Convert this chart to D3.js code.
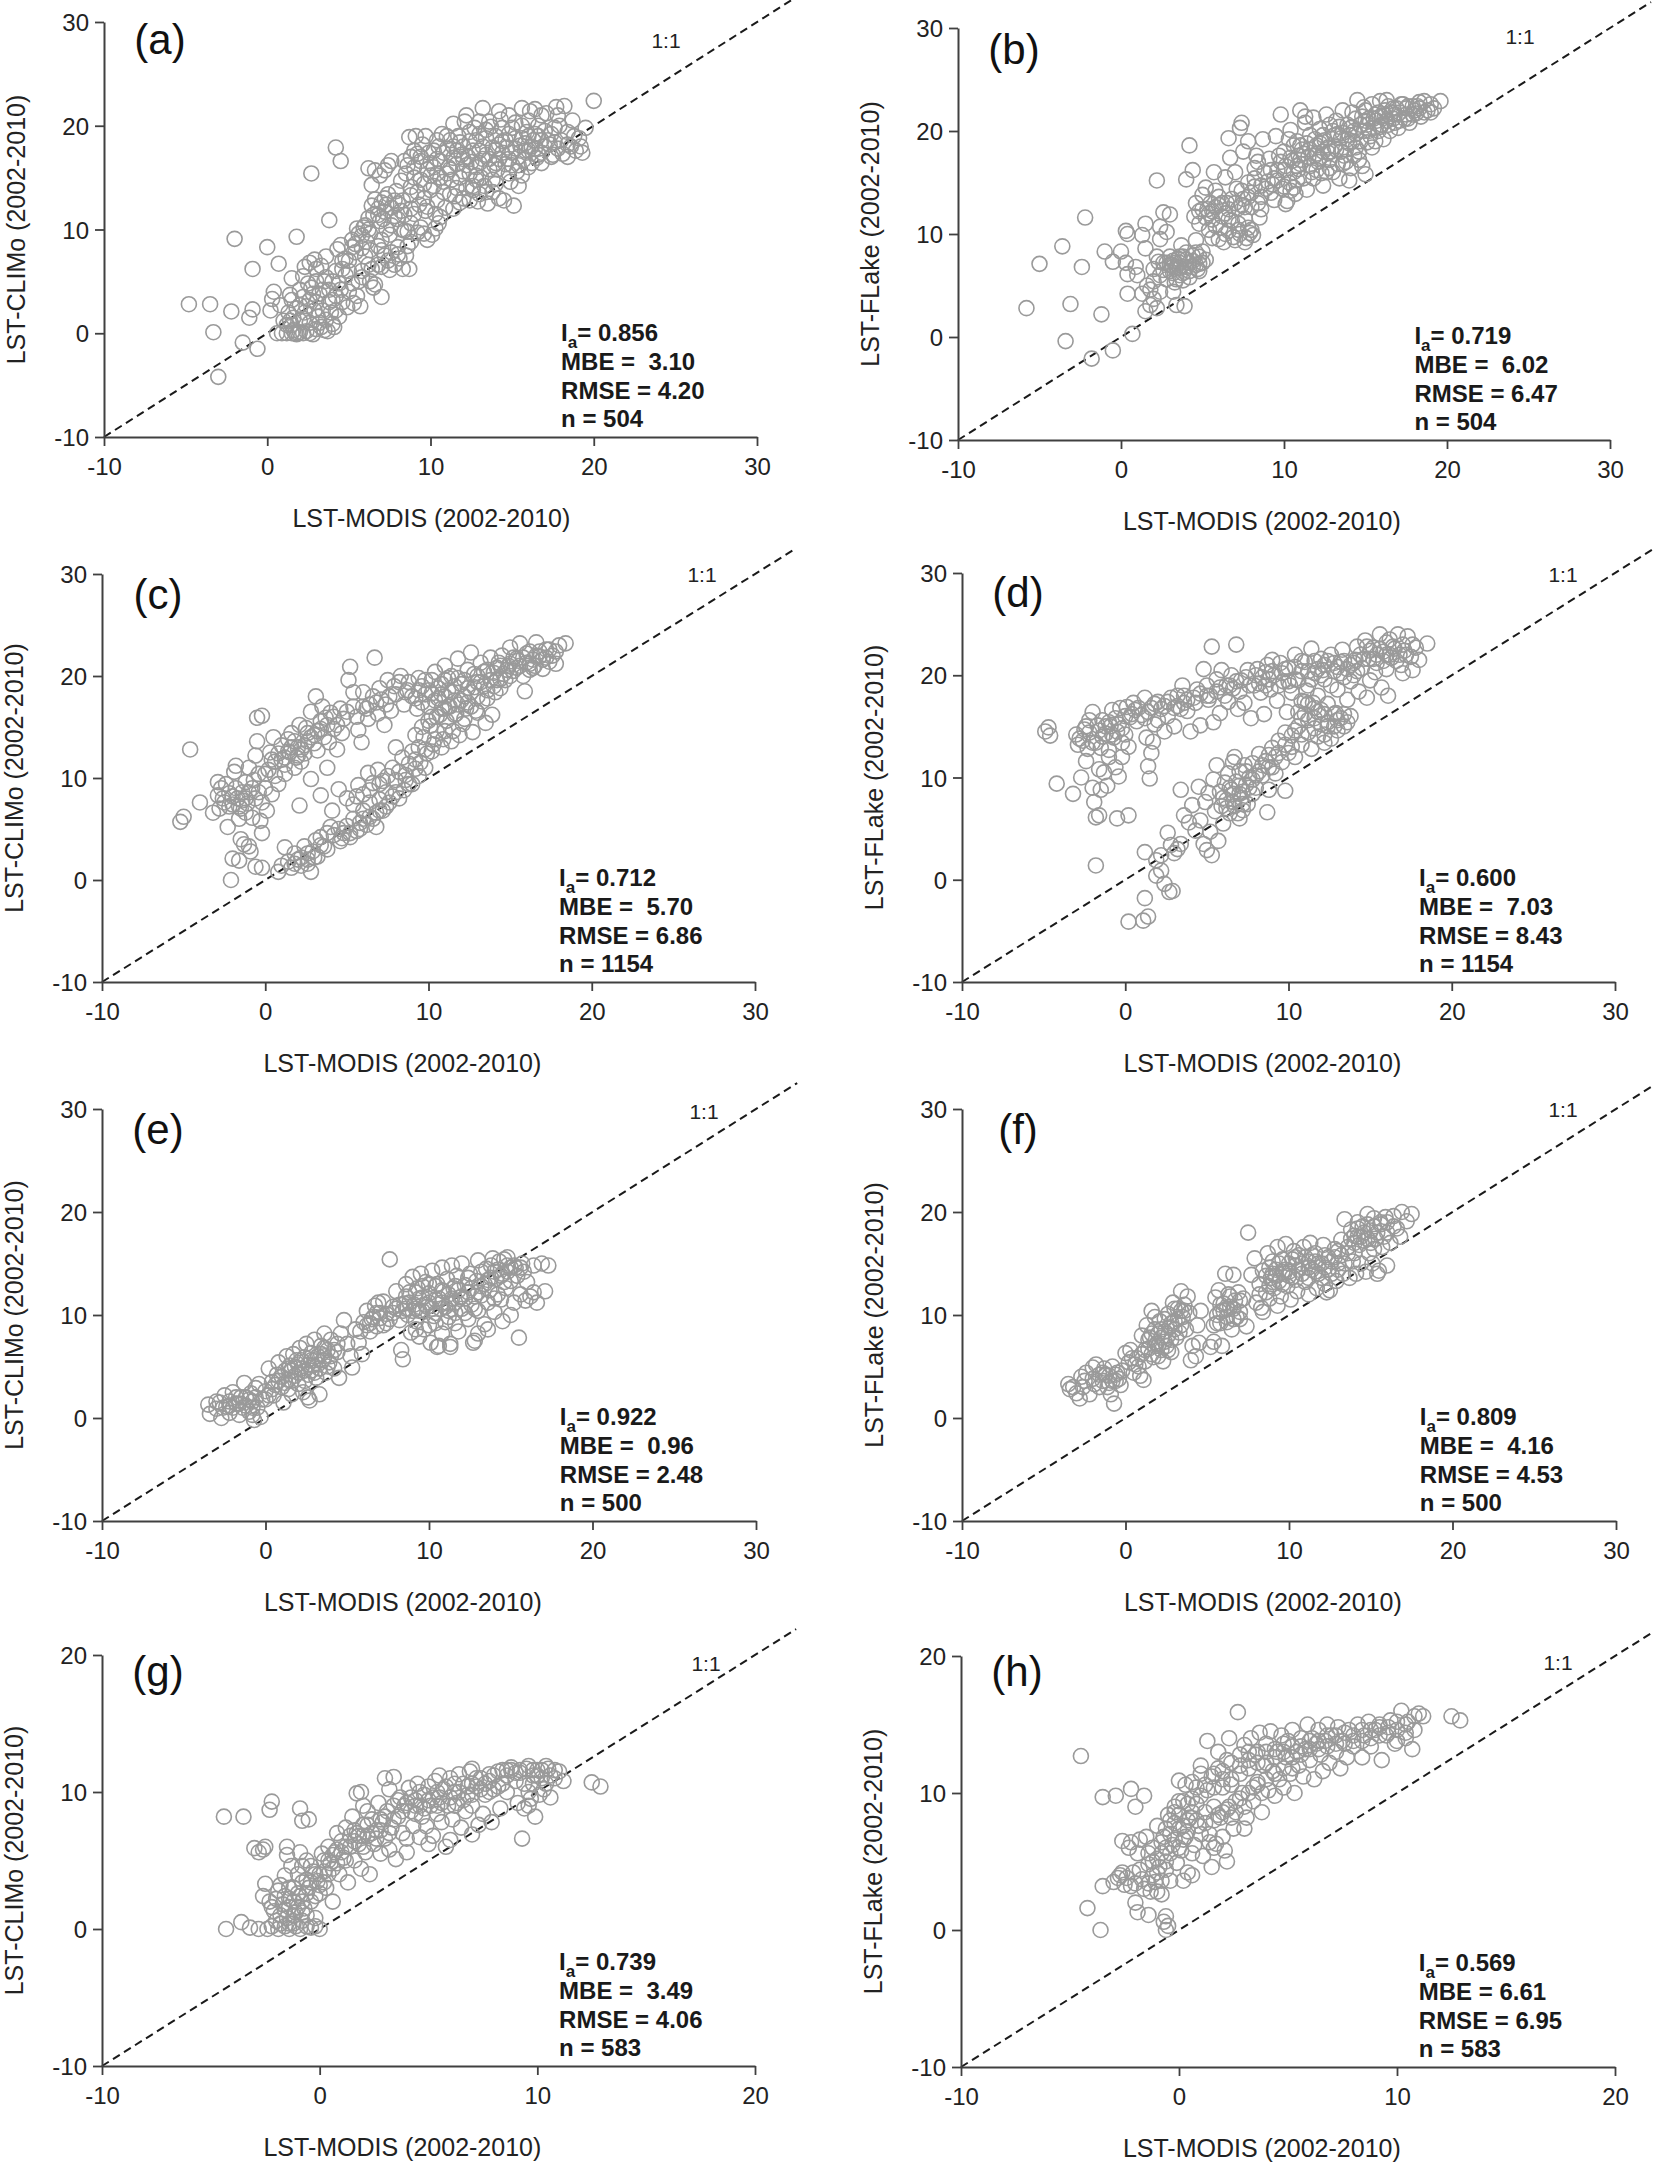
<!DOCTYPE html>
<html lang="en">
<head>
<meta charset="UTF-8">
<title>LST scatter plots</title>
<script src="https://d3js.org/d3.v7.min.js"></script>
<style>
  body { margin: 0; background: #fff; }
  text { font-family: "Liberation Sans", Arial, sans-serif; }
</style>
</head>
<body>
<script>
// ---- data (x = LST-MODIS, y = model) ----
const ptsA = [[-4.8,2.8],[-3.5,2.8],[-3.3,0.1],[-2.2,2.1],[-2.0,9.1],[-1.5,-0.9],[-1.1,1.5],[-0.9,2.3],[-0.6,-1.5],[-0.9,6.2],[-3.0,-4.2],[0.0,8.3],[0.3,3.3],[0.4,4.0],[0.7,6.7],[0.2,2.2],
[1.8,9.3],[2.7,15.4],[3.8,10.9],[4.2,17.9],[4.5,16.6],[1.5,5.3],[1.4,3.7],[1.2,0.8],
[0.6,0],[0.9,0],[1.2,0],[1.5,0],[1.7,0],[1.9,0],[2.0,0.1],[2.2,0],[2.8,-0.1],[1.6,0.3],[1.8,-0.1],
[1.0,1.2],[1.3,2.0],[1.6,1.5],[2.0,2.7],[2.3,2.0],[2.6,1.0],[2.9,2.2],[3.1,1.6],[3.3,0.6],[3.6,1.3],[3.9,2.0],[4.0,0.9],[4.2,2.2],[3.5,0.3],[4.1,0.6],[3.7,0.2],[2.4,0.2],[3.0,3.0],[2.2,3.5],[1.5,3.2],[0.8,2.7],
[2.2,5.5],[2.3,6.4],[2.6,6.8],[2.9,7.1],[2.7,4.4],[3.2,3.8],[3.5,5.0],[3.0,6.2],[3.8,4.2],[3.6,7.4],[4.0,3.2],[4.3,8.1],[4.5,8.5],[4.6,7.0],[4.8,5.6],[5.0,6.0],[5.2,8.3],[5.5,3.6],[5.2,4.8],[4.6,3.0],[4.9,2.5],[5.3,2.9],[5.7,2.6],[4.4,4.8],[5.8,6.0],[6.0,7.4],[6.3,8.0],[6.5,4.4],[6.6,4.7],[7.0,3.5],[6.3,5.0],[6.8,6.6],[7.2,7.5],[7.5,6.1],[7.8,6.6],[8.1,7.2],[8.3,6.2],[8.7,6.2],[7.6,7.8],[8.0,8.3],[8.5,7.5],[2.0,4.2],[1.8,2.4],[3.3,6.5],
[5.2,9.0],[5.5,10.1],[5.6,9.6],[5.9,10.2],[6.2,11.1],[6.4,12.3],[6.6,12.9],[6.9,10.8],[7.0,12.6],[7.2,11.7],[7.4,13.4],[7.6,12.1],[7.8,11.3],[8.0,12.5],[8.2,10.0],[8.4,9.9],[8.6,9.8],[7.3,10.0],[7.0,9.0],[6.8,8.4],[6.1,8.8],[5.8,8.2],[7.5,9.5],[8.8,10.6],[9.0,11.5],[9.3,12.4],[9.7,11.8],[9.2,9.7],[9.8,9.0],[10.1,9.5],[10.3,10.1],[10.5,10.6],[8.8,13.3],[8.3,12.8],[7.9,13.7],[6.4,14.3],[6.2,15.9],[6.6,15.7],[7.2,15.7],[7.4,16.2],[7.6,16.6],[6.9,15.2],[8.2,14.7],
[8.5,15.4],[8.8,14.1],[9.0,16.0],[9.2,17.3],[9.5,18.2],[9.9,17.4],[10.0,15.2],[10.2,14.2],[10.4,16.8],[10.6,15.0],[10.8,13.6],[11.0,17.8],[11.1,16.0],[11.3,14.8],[11.5,13.2],[11.7,19.0],[11.9,17.2],[12.0,15.6],[12.2,14.0],[12.4,18.5],[12.5,16.5],[12.7,19.8],[12.9,12.7],[13.0,17.6],[13.1,15.0],[13.2,21.7],[13.3,14.2],[13.4,18.8],[13.6,16.8],[13.7,19.9],[13.8,13.6],[14.0,17.7],[14.1,15.8],[14.3,20.6],[14.4,18.5],[14.5,12.8],[14.6,16.3],[14.8,19.2],[14.9,14.6],[15.0,17.4],[15.1,12.3],[15.2,20.3],[15.3,15.6],[15.5,18.1],[15.6,21.7],[15.7,16.7],[15.9,19.4],[16.0,17.6],[16.1,21.4],[16.3,18.6],[16.5,16.9],[16.6,20.0],[16.8,17.4],[17.0,19.5],[17.1,21.2],[17.3,18.2],[17.5,17.2],[17.7,21.8],[17.9,20.0],[18.1,17.3],[18.2,21.9],[18.4,19.4],[18.6,18.0],[18.9,17.6],[19.1,18.8],[19.3,17.4],[19.5,19.8],[20.0,22.4],[18.7,20.5],[17.4,17.0],[16.2,16.4],[15.4,14.2],[14.2,13.0],[13.5,12.5],[12.6,13.8],[11.8,12.6],[10.9,12.1],[10.3,11.5],[9.6,13.0],[9.4,14.8],[9.1,19.0],[8.7,18.9],[10.7,19.2],[11.4,20.2],[12.1,20.4],[10.5,18.0],[11.6,16.3],[12.3,17.0],[12.8,15.2],[13.9,16.2],[14.7,17.9],[15.8,18.3],[16.4,17.8],[13.2,18.0],[12.0,18.0],[11.2,18.6],[14.0,19.0],[15.0,19.8],[16.0,20.5],
[8.6,16.2],[9.0,15.0],[9.4,16.6],[9.8,15.8],[10.2,16.0],[10.6,16.6],[11.0,15.4],[11.4,16.9],[11.8,15.0],[12.2,16.2],[12.6,17.6],[13.0,16.4],[13.4,17.2],[13.8,17.9],[14.2,16.8],[14.6,18.6],[15.0,16.2],[15.4,17.0],[15.8,17.6],[16.2,18.0],[16.6,17.2],[17.0,18.0],[17.4,19.2],[13.0,19.2],[13.6,20.4],[14.4,19.8],[15.2,18.8],[14.0,14.4],[13.4,13.6],[12.4,12.8],[11.6,14.0],[10.8,14.6],[10.0,13.8],[9.2,13.6],[15.6,15.2],[16.8,16.4],[17.8,17.8],[18.4,17.0],[12.8,14.8],[11.4,18.0],[12.4,19.4],[10.2,17.6],[9.7,19.0],[14.8,21.0],[16.4,21.6],[15.6,20.0],[6.0,10.4],[6.5,11.4],[7.1,11.0],[7.6,10.4],[8.0,11.0],[8.4,11.4],[6.8,12.0],[7.3,12.4],[6.3,9.6],[5.4,8.6],[4.8,7.2],[4.2,6.0],[3.6,5.4],[2.8,3.8],[2.4,2.6],[3.4,2.2],[3.8,3.0],[2.0,1.2],[1.5,0.8],[2.5,4.8],[3.0,5.0],[4.5,4.2],[5.8,5.4],[6.2,6.6],[7.0,8.0],[8.6,8.4],[9.4,10.2],
[9.0,17.6],[9.6,14.4],[10.0,16.4],[10.4,15.4],[10.8,17.4],[11.2,15.8],[11.6,17.6],[12.0,16.8],[12.4,15.4],[12.8,16.0],[13.2,16.8],[13.6,15.8],[14.0,16.4],[14.4,17.4],[14.8,16.8],[15.2,17.8],[15.6,18.8],[16.0,19.0],[16.4,19.2],[16.8,18.6],[17.2,18.6],[17.6,18.4],[18.0,18.6],[18.4,18.2],[14.2,18.2],[13.4,19.6],[12.8,18.6],[11.8,18.4],[11.0,19.0],[10.4,18.6],[9.4,17.0],[8.8,17.0],[8.4,16.6],[15.4,16.2],[16.0,16.0],[14.8,15.4],[13.8,14.8],[12.6,14.2],[11.2,13.4],[10.4,12.8],[9.8,12.2],[8.8,12.0],[8.2,11.8],[7.8,12.8],[7.2,13.0],[6.8,11.4],[6.2,10.0],[5.8,9.4],[5.4,7.8],[5.0,7.0],[4.6,6.2],[4.0,5.0],[3.4,4.2],[2.6,3.2],[2.2,1.4],[1.4,1.2],[3.2,1.0],[3.0,0.4],[2.6,0.0],[4.4,1.6],[4.2,3.6],[5.0,4.0],[5.6,5.0],[6.4,6.2],[7.0,6.4],[7.4,7.0],[8.0,7.6],[8.8,8.8],[9.6,9.6],[10.6,11.2],[11.4,12.0],[12.0,13.0],[13.0,13.4],[16.6,19.0],[17.6,19.8],[18.8,19.0],[19.2,18.0],[17.8,21.0],[16.8,21.0],[14.2,21.4],[13.0,20.4],[12.2,21.0]];

const ptsB = [[-5.8,2.8],[-5.0,7.1],[-3.6,8.8],[-3.4,-0.4],[-3.1,3.2],[-2.4,6.8],[-2.2,11.6],[-1.2,2.2],[-0.5,-1.3],[-1.8,-2.1],[0.7,0.3],[-1.0,8.3],[-0.5,7.3],[0.0,8.3],[0.3,10.3],[0.4,10.0],[0.3,7.2],[0.4,6.1],[0.4,4.2],[0.9,6.8],[1.0,6.0],[1.5,11.0],[1.3,9.9],[1.3,4.2],[1.5,2.5],[1.8,3.1],[2.0,3.7],[2.2,2.8],[1.6,5.0],[1.5,8.6],[2.0,6.6],[2.3,7.3],[2.4,9.5],[2.4,10.7],[2.2,15.2],[2.6,12.1],[2.8,10.2],[3.0,11.9],[3.0,7.8],[3.1,7.0],[3.2,6.2],[3.3,5.3],[3.5,7.6],[3.6,6.7],[3.7,8.9],[3.4,3.1],[3.9,3.0],[4.0,15.3],[4.2,18.6],[4.4,16.2],[4.0,7.5],[4.2,6.4],[4.4,7.9],[4.6,9.4],[4.8,7.1],[5.0,8.3],[4.7,6.6],[5.2,7.5],[3.6,6.0],[3.8,5.5],[3.2,4.4],[2.8,5.6],[2.6,6.5],
[4.5,11.7],[4.6,13.0],[4.8,12.2],[5.0,13.8],[5.2,14.5],[5.3,12.4],[5.5,13.0],[5.6,11.4],[5.7,16.0],[5.8,14.2],[6.0,12.8],[6.1,10.6],[6.2,11.7],[6.3,9.2],[6.4,15.5],[6.5,13.0],[6.6,10.3],[6.7,17.4],[6.8,11.3],[6.9,9.7],[7.0,16.0],[7.1,14.4],[7.2,12.5],[7.3,10.0],[7.4,20.8],[7.5,13.4],[7.6,9.2],[7.6,11.5],[7.8,15.0],[7.9,10.1],[8.0,12.6],[8.1,9.9],[8.2,16.4],[8.3,17.6],[8.5,11.6],[8.6,14.7],[8.7,19.2],[8.8,16.0],[9.0,15.1],[5.4,10.4],[6.0,9.5],[6.6,19.3],[7.3,20.3],[7.8,19.0],[8.4,17.0],[7.5,18.0],
[9.1,17.3],[9.3,14.8],[9.5,19.5],[9.6,16.2],[9.8,21.6],[9.9,14.4],[10.0,18.0],[10.2,13.2],[10.3,15.0],[10.4,20.1],[10.5,17.1],[10.6,14.5],[10.8,19.0],[10.9,16.3],[11.0,22.0],[11.1,18.2],[11.2,15.4],[11.3,20.8],[11.5,17.5],[11.6,19.6],[11.7,16.0],[11.8,21.3],[12.0,18.6],[12.1,17.0],[12.2,20.2],[12.3,15.9],[12.5,19.1],[12.6,21.6],[12.7,17.9],[12.8,16.4],[13.0,20.0],[13.1,18.5],[13.2,21.0],[13.3,16.8],[13.5,19.3],[13.6,22.0],[13.7,17.6],[13.9,20.6],[14.0,18.8],[14.1,16.4],[14.2,21.8],[14.4,19.7],[14.5,23.0],[14.6,17.2],[14.7,20.6],[14.9,22.3],[15.0,15.8],[15.1,18.9],[15.2,21.2],[15.4,22.6],[15.5,20.3],[15.6,19.0],[15.8,21.8],[15.9,22.9],[16.0,20.6],[16.2,21.5],[16.4,22.4],[16.5,20.0],[16.7,21.2],[16.9,22.2],[17.1,21.0],[17.3,22.6],[17.5,21.6],[17.7,20.8],[17.9,22.4],[18.1,21.7],[18.3,22.2],[18.6,22.9],[18.8,22.0],[19.0,22.6],[19.2,22.2],[19.6,22.9],[17.0,20.3],[16.1,19.2],[15.3,19.5],[14.3,17.6],[13.4,15.4],[12.4,14.7],[11.4,14.3],[10.7,13.9],[10.1,12.9],[9.4,13.3],[14.8,16.6],[14.0,15.2],[13.0,16.0],[12.0,16.2],[11.0,16.8],[12.9,18.0],[11.9,19.2],[13.8,18.2],[14.9,20.0],[15.7,21.0],[16.6,21.8],[17.6,22.4],[18.4,21.4],[16.3,23.0],[15.0,22.0],[14.1,20.3],[13.3,19.7],[12.4,18.0],[10.9,17.6],
[9.2,16.2],[9.7,17.6],[10.1,16.6],[10.6,18.6],[11.0,17.2],[11.4,18.8],[11.9,17.6],[12.3,19.0],[12.7,18.4],[13.1,19.6],[13.5,18.0],[13.9,19.2],[14.3,20.0],[14.7,19.0],[15.1,20.6],[15.5,21.2],[15.9,20.4],[16.3,21.0],[16.7,22.2],[17.1,21.8],[17.5,22.2],[17.9,21.6],[18.3,22.8],[12.2,17.4],[11.6,16.6],[10.8,15.2],[13.6,16.8],[14.4,18.4],[15.8,20.0],[16.8,20.8],[10.3,19.2],[9.8,17.0],[11.3,21.4],[12.8,20.6],[5.2,11.6],[5.6,12.2],[6.0,13.6],[6.4,12.0],[6.8,13.4],[7.2,11.0],[7.6,12.6],[8.0,14.0],[8.4,13.0],[5.8,10.8],[7.0,9.4],[7.8,10.6],[8.6,12.4],[2.8,7.2],[3.2,7.4],[3.6,7.2],[4.0,6.8],[4.4,7.4],[4.8,6.4],[3.0,6.4],[3.4,6.8],[4.6,8.2],[3.8,7.8],[2.4,6.0],[3.4,5.6],[4.2,5.8],[5.0,7.2],[8.9,14.4],[9.4,15.4],[10.4,14.2],[8.2,15.4],[7.4,14.2],
[9.6,15.2],[10.0,16.2],[10.4,17.4],[10.8,16.6],[11.2,17.8],[11.6,18.2],[12.0,17.8],[12.4,19.6],[12.8,17.2],[13.2,18.2],[13.6,19.8],[14.0,19.6],[14.4,21.2],[14.8,21.4],[15.2,20.0],[15.6,21.6],[16.0,21.4],[16.4,20.6],[16.8,21.6],[17.2,22.6],[17.6,21.2],[18.0,22.0],[18.6,21.8],[19.0,21.8],[12.6,16.0],[11.8,15.4],[13.8,17.0],[14.6,18.0],[15.4,18.4],[10.0,14.6],[9.2,14.0],[8.6,13.6],[8.2,14.6],[7.8,13.6],[7.4,12.8],[7.0,13.0],[6.6,12.4],[6.2,13.0],[5.8,12.6],[5.4,12.0],[5.0,12.4],[4.8,11.0],[6.6,11.4],[7.2,10.4],[7.7,9.6],[8.0,10.4],[6.4,10.0],[5.6,9.6],[3.0,7.0],[3.2,6.8],[3.6,7.8],[4.0,8.2],[4.4,6.8],[4.8,7.8],[2.6,7.2],[3.8,6.2],[3.3,7.2],[4.2,7.2],[4.6,7.0],[2.2,7.8],[2.0,5.4],[2.4,4.4],[1.8,4.6],[10.6,16.0],[11.0,18.6],[12.2,18.8],[13.4,20.4],[14.2,19.0],[15.0,21.0],[16.2,22.0],[17.4,21.2],[18.2,22.4]];

const ptsC = [[-5.2,5.7],[-5.0,6.2],[-4.6,12.8],[-4.0,7.6],[-3.2,6.6],[-2.9,9.6],[-2.9,8.3],[-2.7,9.0],[-2.5,7.6],[-2.3,5.2],[-2.2,8.5],[-2.0,7.4],[-1.9,10.6],[-1.8,11.2],[-1.7,8.0],[-1.6,6.0],[-1.5,7.0],[-1.5,4.0],[-1.4,8.6],[-1.3,3.5],[-1.2,9.6],[-1.1,7.5],[-1.0,11.0],[-0.9,2.8],[-0.8,6.1],[-0.7,9.8],[-0.6,12.2],[-0.5,15.9],[-0.2,16.1],[-0.5,13.6],[-0.4,10.4],[-0.3,5.8],[-0.2,4.6],[0.0,9.0],[0.1,6.8],[0.2,10.8],[0.3,12.5],[0.5,14.0],[0.6,11.6],[0.8,9.4],[-2.0,2.1],[-2.1,0.0],[-1.6,1.9],[-0.6,1.3],[-0.2,1.2],[-1.0,3.3],
[1.0,13.2],[1.2,11.3],[1.4,13.8],[1.5,12.5],[1.6,14.4],[1.8,11.0],[1.9,12.0],[2.0,13.0],[2.1,15.2],[2.2,11.6],[2.4,12.4],[2.5,14.9],[2.6,13.6],[2.8,16.5],[3.0,14.2],[3.1,18.0],[3.2,12.7],[3.4,15.6],[3.5,17.0],[3.7,15.9],[3.8,11.0],[3.9,13.5],[4.0,16.4],[4.2,14.8],[4.4,12.8],[4.7,14.4],[5.0,16.5],[5.1,19.6],[5.2,20.9],[5.4,18.4],[5.7,14.7],[5.9,13.5],[6.0,17.0],[6.3,15.8],[6.6,18.0],[6.7,21.8],[6.9,16.3],[7.1,17.7],[7.3,15.2],[7.5,19.6],[7.7,16.6],[7.9,19.0],[8.0,13.0],[8.3,20.0],[8.5,17.2],[8.7,18.6],[2.1,7.3],[3.4,8.3],[4.1,6.8],[2.8,9.9],[1.2,10.4],
[1.2,3.2],[1.4,1.8],[1.6,1.2],[1.8,2.6],[2.0,2.0],[2.2,1.4],[2.4,3.3],[2.6,1.6],[2.8,0.8],[2.9,2.8],[3.1,3.9],[3.2,2.3],[3.4,4.2],[3.6,3.3],[3.8,4.6],[4.0,5.2],[4.2,4.4],[4.5,5.0],[4.7,4.1],[5.0,5.3],[5.2,4.6],[5.4,6.0],[5.6,4.8],[5.8,5.6],[6.0,6.8],[6.2,5.4],[6.4,7.6],[6.6,6.0],[6.8,5.2],[7.0,7.9],[7.2,6.8],[7.4,8.6],[4.5,8.9],[5.0,8.0],[5.4,7.4],[5.7,9.3],[6.0,8.4],[6.3,10.5],[6.6,9.5],[6.9,10.8],[7.2,9.7],[7.5,10.2],[7.8,11.0],[8.0,9.8],[8.2,10.6],[8.4,12.0],[8.6,10.3],[8.8,11.4],[9.0,12.6],[9.2,10.9],[9.4,13.0],[9.5,11.5],[9.7,14.0],[9.9,12.4],[10.1,15.1],[10.3,13.3],[10.5,14.6],[10.7,16.2],[10.9,13.8],[11.1,15.6],[11.3,17.0],[11.5,14.6],[11.7,16.3],[9.0,9.4],[8.5,8.8],[7.8,8.2],
[9.3,16.8],[9.4,18.6],[9.6,17.4],[9.8,19.6],[10.0,17.0],[10.2,18.3],[10.4,20.4],[10.6,17.8],[10.8,19.2],[11.0,21.0],[11.2,18.6],[11.4,20.0],[11.6,17.6],[11.8,21.7],[12.0,19.2],[12.1,15.3],[12.2,18.0],[12.4,20.6],[12.6,22.3],[12.8,18.9],[12.9,16.6],[13.0,20.0],[13.2,21.3],[13.4,19.0],[13.5,15.4],[13.6,17.8],[13.8,21.8],[14.0,20.3],[14.1,18.4],[14.3,21.3],[14.5,22.0],[14.7,19.6],[14.9,21.0],[15.0,22.8],[15.2,20.5],[15.4,21.7],[15.6,23.2],[15.8,20.0],[15.9,18.5],[16.0,21.3],[16.2,22.4],[16.4,20.8],[16.6,23.3],[16.8,21.9],[17.0,20.7],[17.2,22.6],[17.4,21.4],[17.6,22.0],[18.0,23.0],[18.4,23.2],[17.8,21.2],[16.5,21.0],[15.5,21.5],[14.4,19.7],[13.3,17.5],[12.3,16.8],[11.0,18.0],[10.5,16.0],[13.9,16.2],[12.7,14.5],[11.9,14.2],
[-2.6,8.0],[-2.2,7.2],[-1.8,9.0],[-1.4,7.8],[-1.0,8.6],[-0.6,8.0],[-0.2,7.6],[0.4,8.4],[-1.2,6.6],[-2.4,9.4],[0.8,12.4],[1.2,12.0],[1.6,13.0],[2.0,12.2],[2.4,13.2],[2.8,14.0],[3.2,14.6],[3.6,14.0],[4.4,15.2],[4.8,15.8],[5.6,16.0],[6.2,16.8],[6.8,17.4],[7.4,17.2],[8.0,18.2],[8.8,19.4],[9.2,17.8],[9.6,19.0],[10.0,18.6],[10.4,17.6],[10.8,18.2],[11.2,19.8],[11.6,19.0],[12.0,17.6],[12.4,18.8],[12.8,20.2],[13.2,19.4],[13.6,20.6],[14.0,19.0],[14.4,21.0],[14.8,20.6],[15.2,21.8],[15.6,21.0],[16.0,22.2],[16.4,21.6],[16.8,22.4],[17.2,21.8],[13.0,18.0],[12.6,17.0],[11.6,16.2],[11.0,16.8],[10.2,16.0],[14.2,19.6],[15.0,20.0],[16.2,20.6],[5.2,4.2],[4.6,3.8],[3.8,3.0],[3.0,2.2],[2.6,2.6],[2.2,2.2],[6.4,6.2],[7.0,6.8],[7.6,7.6],[8.0,8.6],[8.6,9.8],[9.2,11.8],[9.8,12.8],[10.4,13.8],[11.0,14.6],[7.0,9.4],[6.4,8.8],[5.6,8.2],[12.2,15.8],[13.0,16.4],
[-2.8,7.0],[-2.0,8.2],[-1.6,7.2],[-1.2,8.0],[-0.8,9.0],[-0.4,8.6],[0.0,10.4],[0.4,11.8],[0.6,10.2],[1.0,11.8],[1.4,12.6],[1.8,13.6],[2.2,12.8],[2.6,14.4],[3.0,13.4],[3.4,14.8],[3.8,15.2],[4.2,16.0],[4.6,16.8],[5.4,17.0],[6.0,18.4],[6.4,17.2],[7.0,18.8],[7.6,18.0],[8.2,19.4],[8.6,18.4],[9.0,18.0],[9.4,19.8],[9.8,18.2],[10.2,19.6],[10.6,18.8],[11.0,19.6],[11.4,18.4],[11.8,19.8],[12.2,19.6],[12.6,18.4],[13.0,19.4],[13.4,20.4],[13.8,19.6],[14.2,20.8],[14.6,20.2],[15.0,21.2],[15.4,20.8],[15.8,21.8],[16.2,21.2],[16.6,22.0],[17.0,21.6],[17.4,22.6],[17.8,22.4],[12.4,17.4],[11.8,17.2],[11.2,17.0],[10.8,16.8],[10.0,15.6],[9.6,15.0],[9.2,14.2],[13.6,18.6],[14.4,18.8],[4.8,4.6],[5.8,5.0],[6.0,6.0],[6.8,6.6],[7.4,7.2],[8.2,8.0],[8.8,9.4],[9.4,10.2],[9.8,11.0],[10.2,12.6],[10.8,13.0],[11.4,13.6],[3.4,3.4],[2.6,2.0],[1.8,1.6],[1.0,1.4],[0.8,0.8]];

const ptsD = [[-4.9,14.5],[-4.7,14.9],[-4.6,14.1],[-4.2,9.4],[-3.2,8.4],[-3.0,14.2],[-2.9,13.2],[-2.8,13.8],[-2.7,10.0],[-2.5,14.7],[-2.3,12.8],[-2.2,15.6],[-2.0,16.4],[-2.0,9.0],[-1.9,7.6],[-1.8,6.1],[-1.7,15.1],[-1.6,6.3],[-1.5,12.9],[-1.4,15.6],[-1.3,10.5],[-1.2,14.3],[-1.1,9.2],[-1.0,12.7],[-0.9,15.0],[-0.8,16.6],[-0.7,13.9],[-0.6,11.0],[-0.5,14.5],[-0.4,10.1],[-0.3,16.8],[-0.2,12.0],[0.0,14.2],[0.1,16.9],[0.2,13.0],[0.3,15.9],[-0.5,6.0],[0.2,6.3],[-1.8,1.4],[-1.5,8.8],[0.5,17.3],[0.7,15.5],[1.0,16.1],[1.2,17.8],[1.3,13.9],[1.4,11.1],[1.5,9.9],[1.6,12.4],[1.7,13.5],[1.8,17.2],[2.0,15.6],[2.2,16.7],[2.4,14.5],[2.6,16.0],[2.8,17.8],[3.0,15.0],[3.2,18.0],[3.4,16.7],[3.5,19.0],[3.6,17.3],[3.8,16.5],[4.0,14.5],[4.3,17.3],[4.6,15.1],[4.8,20.6],[5.0,19.0],[5.1,17.6],[5.3,22.8],[5.4,15.4],[5.6,19.6],[5.8,16.3],[5.9,20.5],[6.1,18.0],[6.3,17.4],[6.5,20.0],[6.6,18.7],[6.8,23.0],[6.9,16.7],[7.1,19.5],[7.3,17.3],[7.5,20.5],[7.7,15.8],[7.9,19.0],[8.1,20.6],[8.3,18.3],[8.5,16.2],
[0.2,-4.1],[1.1,-4.0],[1.4,-3.6],[1.2,-1.8],[1.9,0.4],[2.4,-0.4],[2.7,-1.2],[2.9,-1.1],[2.2,0.9],[1.2,2.7],[1.9,1.9],[2.2,2.4],[2.6,4.6],[2.8,3.4],[3.0,2.6],[3.2,3.0],[3.4,3.5],[3.6,6.3],[3.4,8.8],[3.9,5.6],[4.1,7.3],[4.3,4.8],[4.5,9.1],[4.6,5.8],[4.8,3.5],[4.9,7.6],[5.0,2.9],[5.1,8.5],[5.2,4.7],[5.3,2.4],[5.4,9.8],[5.5,6.7],[5.6,11.2],[5.7,3.8],[5.8,8.6],[5.9,7.2],[6.0,5.5],[6.1,9.5],[6.2,7.8],[6.3,10.4],[6.4,6.5],[6.5,8.8],[6.6,11.5],[6.7,7.2],[6.8,9.6],[6.9,6.5],[7.0,10.6],[7.1,8.0],[7.2,6.8],[7.3,11.2],[7.4,9.3],[7.5,7.4],[7.6,10.0],[7.8,11.4],[8.0,9.0],[8.2,12.3],[8.4,10.2],[8.6,11.6],[8.8,8.8],[9.0,12.9],[9.2,10.4],[9.4,13.6],[9.6,11.5],[9.8,8.7],[10.0,12.4],[10.2,14.1],[10.4,12.0],[10.6,15.0],[10.8,13.2],[11.0,16.2],[11.2,14.4],[11.4,12.8],[11.6,15.8],[11.8,14.0],[12.0,16.6],[12.2,13.4],[12.4,15.4],[12.6,13.8],[12.8,16.2],[13.0,14.6],[13.2,15.8],[13.4,15.0],[8.7,6.6],[7.0,6.0],[6.7,12.0],
[8.4,19.8],[8.7,21.0],[8.9,18.6],[9.1,20.0],[9.3,17.5],[9.5,21.2],[9.7,19.4],[9.9,16.4],[10.0,20.7],[10.2,18.3],[10.4,22.0],[10.6,19.5],[10.8,17.5],[11.0,21.3],[11.2,19.0],[11.4,22.6],[11.6,20.2],[11.8,18.0],[12.0,21.6],[12.2,19.6],[12.4,17.2],[12.6,22.0],[12.8,20.4],[13.0,18.6],[13.2,21.3],[13.4,19.8],[13.6,17.6],[13.8,21.0],[14.0,20.0],[14.2,22.8],[14.3,18.4],[14.5,20.7],[14.7,23.4],[14.9,21.6],[15.0,19.5],[15.2,22.7],[15.4,21.2],[15.6,24.0],[15.7,18.8],[15.8,22.3],[16.0,20.6],[16.2,23.5],[16.3,21.7],[16.5,22.6],[16.7,24.0],[16.9,21.0],[17.1,22.4],[17.3,23.8],[17.5,21.8],[17.6,20.5],[17.8,22.7],[18.0,21.5],[18.5,23.1],[17.0,20.2],[16.0,22.0],[15.3,20.3],[14.1,21.5],[13.3,22.5],[12.1,20.5],[11.1,18.5],[10.1,19.0],[9.0,21.5],[8.6,20.3],[14.8,17.8],[16.1,18.0],[12.9,16.3],[13.8,16.0],[11.5,17.3],
[-2.6,13.6],[-2.2,14.4],[-1.8,13.4],[-1.4,14.0],[-1.0,15.4],[-0.6,15.8],[-0.2,14.8],[0.4,16.2],[0.8,16.8],[1.4,16.4],[1.8,15.2],[2.4,17.0],[3.0,16.8],[3.6,18.0],[4.2,17.8],[4.6,18.2],[5.2,18.0],[5.8,18.8],[6.4,19.0],[7.0,18.4],[7.6,19.0],[8.2,19.2],[8.8,19.6],[9.4,19.0],[9.8,20.6],[10.4,19.6],[10.8,20.4],[11.4,19.6],[11.8,20.6],[12.2,21.0],[12.6,19.0],[13.0,20.8],[13.4,21.4],[13.8,19.4],[14.2,20.4],[14.6,21.6],[15.0,22.4],[15.4,22.0],[15.8,21.4],[16.2,22.0],[16.6,21.4],[17.0,23.0],[10.6,16.4],[11.2,17.2],[11.8,16.4],[12.4,15.0],[13.0,15.6],[13.6,15.4],[12.2,14.2],[11.6,14.8],[10.8,15.8],[9.2,12.0],[9.8,13.2],[8.8,11.0],[8.2,10.6],[7.6,9.0],[7.0,8.4],[6.6,7.6],[6.2,7.0],[7.2,7.4],[7.8,8.4],[-2.4,11.6],[-1.6,10.8],[-1.0,12.0],[-0.2,13.4],
[-2.4,15.0],[-2.0,13.4],[-1.6,14.6],[-1.2,15.0],[-0.8,14.2],[-0.4,15.2],[0.0,16.0],[0.6,16.6],[1.2,15.8],[1.6,16.8],[2.0,17.4],[2.6,17.4],[3.2,17.0],[3.8,17.6],[4.4,18.6],[5.0,18.0],[5.6,18.4],[6.2,19.0],[6.8,19.4],[7.4,19.8],[8.0,20.0],[8.6,19.0],[9.0,20.4],[9.6,20.2],[10.0,19.4],[10.4,20.8],[10.8,21.4],[11.2,20.4],[11.6,21.4],[12.0,20.0],[12.4,21.4],[12.8,21.2],[13.2,20.2],[13.6,20.6],[14.0,21.2],[14.4,22.0],[14.8,22.8],[15.2,21.6],[15.6,22.6],[16.0,23.2],[16.4,22.8],[16.8,22.0],[17.2,22.0],[17.6,23.0],[11.0,17.4],[11.6,16.8],[12.2,16.2],[12.8,15.0],[13.4,16.2],[12.0,15.2],[11.2,15.6],[10.4,14.6],[9.8,14.4],[9.4,12.4],[8.8,12.2],[8.4,11.2],[8.0,10.2],[7.4,10.6],[7.0,9.2],[6.6,8.4],[6.0,8.0],[6.4,9.0],[7.2,8.6],[7.8,9.8],[9.0,11.0],[10.2,13.0],[10.8,14.2]];

const ptsE = [[-3.5,1.3],[-3.4,0.4],[-3.0,0.9],[-2.7,0.0],[-2.5,2.2],[-2.4,1.1],[-2.2,0.5],[-2.0,2.5],[-1.8,1.4],[-1.6,0.3],[-1.5,2.0],[-1.3,3.4],[-1.2,1.2],[-1.0,0.6],[-0.9,2.4],[-0.8,1.6],[-0.7,-0.2],[-0.6,2.9],[-0.5,1.0],[-0.4,3.3],[-0.3,0.1],[-0.2,1.8],[0.0,2.6],[0.2,4.8],[0.4,3.5],[0.5,2.2],[0.7,4.2],[0.8,5.4],[1.0,3.0],[1.1,1.5],[1.2,4.6],[1.3,6.0],[1.4,3.7],[1.5,5.1],[1.6,2.3],[1.7,6.2],[1.8,4.1],[1.9,5.6],[2.0,3.3],[2.1,6.8],[2.2,4.8],[2.3,2.5],[2.4,5.9],[2.5,7.2],[2.6,4.2],[2.7,1.7],[2.8,6.3],[2.9,5.1],[3.0,7.6],[3.1,3.9],[3.2,6.0],[3.3,4.8],[3.4,7.0],[3.5,5.6],[3.6,8.2],[3.7,4.4],[3.8,6.6],[3.9,5.4],[4.0,7.6],[4.2,4.8],[4.4,6.4],[4.6,8.2],[4.8,9.5],[5.0,7.2],[5.2,6.0],[5.5,8.6],[5.7,7.3],[5.9,6.2],[6.0,9.3],[6.2,10.4],[6.4,8.4],[6.5,9.6],[6.7,10.9],[6.8,8.9],[7.0,9.7],[7.2,11.3],[7.4,9.2],[7.6,15.4],[7.8,10.8],[8.0,12.3],[8.2,9.5],[8.3,6.6],[8.4,5.7],[8.5,11.1],[8.6,13.0],[8.7,10.0],[8.8,12.2],[8.9,8.3],[9.0,13.7],[9.1,11.0],[9.2,9.4],[9.3,12.6],[9.4,10.4],[9.5,14.0],[9.6,11.7],[9.7,8.6],[9.8,13.2],[9.9,10.8],[10.0,12.1],[10.1,7.3],[10.2,14.3],[10.3,9.9],[10.4,11.5],[10.5,13.0],[10.6,7.0],[10.7,10.6],[10.8,14.6],[10.9,12.3],[11.0,9.3],[11.1,13.5],[11.2,11.1],[11.3,7.2],[11.4,14.8],[11.5,12.6],[11.6,10.2],[11.7,13.8],[11.8,8.4],[11.9,11.7],[12.0,15.0],[12.2,12.9],[12.4,9.6],[12.5,14.0],[12.6,11.0],[12.8,7.5],[12.9,13.3],[13.0,15.3],[13.2,11.9],[13.4,9.1],[13.5,14.5],[13.7,12.4],[13.9,15.5],[14.0,10.3],[14.1,13.5],[14.3,15.2],[14.4,11.5],[14.5,14.0],[14.7,12.6],[14.8,15.6],[15.0,13.3],[15.2,11.2],[15.3,14.6],[15.5,7.8],[15.6,12.0],[15.7,15.0],[15.9,11.4],[16.0,13.2],[16.2,11.8],[16.4,14.8],[16.6,11.2],[16.9,15.0],[17.1,12.3],[17.3,14.8],[9.4,7.9],[10.5,6.9],[11.3,6.9],[12.7,7.3],[13.0,8.2],[13.6,8.6],[14.5,9.4],[15.0,10.0],[12.2,10.2],[8.0,10.6],[7.4,10.1],[6.9,11.2],[4.5,3.9],[5.3,4.9],[3.3,2.3],[2.6,2.0],[-0.8,0.3],[-2.0,1.0],
[-2.8,1.5],[-2.2,1.6],[-1.6,1.4],[-1.2,2.0],[-0.8,1.0],[0.2,2.2],[0.6,3.2],[1.0,4.0],[1.4,4.8],[1.8,5.0],[2.2,5.6],[2.6,5.2],[3.0,5.6],[3.4,6.2],[3.8,5.0],[4.2,6.6],[2.0,4.4],[1.6,3.6],[2.8,4.6],[3.6,6.8],[6.2,9.0],[6.6,9.8],[7.0,10.2],[7.6,9.6],[8.2,11.0],[8.6,10.6],[9.0,10.4],[9.4,11.6],[9.8,11.0],[10.2,10.6],[10.6,11.6],[11.0,10.8],[11.4,11.6],[11.8,12.4],[12.2,11.6],[12.6,12.6],[13.0,12.2],[13.4,13.0],[13.8,13.6],[14.2,14.4],[14.6,13.2],[15.0,14.6],[15.4,13.8],[14.2,12.0],[13.6,11.2],[12.8,10.6],[11.6,9.2],[10.8,8.2],[10.0,9.0],[9.2,8.6],[16.4,12.2],[15.8,14.2],[14.8,14.8],[9.6,12.8],[10.4,12.8],[11.2,12.0],
[-3.0,1.6],[-2.6,1.0],[-2.2,1.2],[-1.8,2.0],[-1.4,1.0],[-1.0,1.8],[-0.6,2.0],[0.0,1.8],[0.4,2.8],[0.8,3.6],[1.2,3.4],[1.6,4.6],[2.0,5.2],[2.4,4.6],[2.8,5.6],[3.2,5.2],[3.6,6.0],[4.0,6.0],[4.4,7.2],[1.4,2.8],[2.4,3.6],[3.0,4.4],[5.8,8.4],[6.4,9.2],[6.8,10.2],[7.2,9.0],[7.8,10.2],[8.4,10.4],[8.8,11.2],[9.2,10.6],[9.6,10.4],[10.0,11.2],[10.4,10.2],[10.8,11.2],[11.2,10.4],[11.6,11.2],[12.0,11.8],[12.4,12.2],[12.8,11.8],[13.2,12.8],[13.6,13.4],[14.0,14.2],[14.4,13.8],[14.8,14.2],[15.2,14.8],[15.6,14.6],[14.6,15.4],[13.8,14.8],[13.2,14.2],[12.4,13.6],[11.6,12.8],[10.8,12.4],[10.0,13.0],[9.2,12.2],[8.6,11.8],[12.0,10.6],[11.2,9.8],[10.4,9.2],[13.0,10.4],[14.0,11.6]];

const ptsF = [[-3.5,3.3],[-3.4,2.8],[-3.0,2.4],[-2.8,1.9],[-2.7,4.0],[-2.5,3.6],[-2.2,2.3],[-2.0,4.9],[-1.9,3.3],[-1.8,5.2],[-1.6,4.2],[-1.4,3.6],[-1.3,4.8],[-1.1,3.0],[-1.0,4.1],[-0.9,2.3],[-0.8,5.0],[-0.7,1.4],[-0.6,3.6],[-0.5,4.4],[-0.3,3.2],[0.0,6.3],[0.2,5.4],[0.3,6.6],[0.5,4.4],[0.7,5.8],[0.9,4.1],[1.0,8.0],[1.1,3.7],[1.2,5.5],[1.3,9.0],[1.4,6.7],[1.5,7.8],[1.6,10.4],[1.7,5.9],[1.8,8.6],[1.9,7.2],[2.0,6.0],[2.1,9.4],[2.2,7.8],[2.3,5.5],[2.4,8.4],[2.5,7.0],[2.6,10.1],[2.7,8.8],[2.8,6.4],[2.9,11.2],[3.0,9.4],[3.1,7.8],[3.2,10.6],[3.3,8.3],[3.4,12.3],[3.5,9.8],[3.6,11.0],[3.7,8.6],[3.8,11.8],[3.9,10.2],[4.0,5.6],[4.1,7.0],[4.3,6.0],[4.4,9.0],[4.5,7.3],[4.6,10.4],[5.2,6.9],[5.4,7.4],[5.5,11.7],[5.6,9.2],[5.7,12.4],[5.8,10.3],[5.9,7.0],[6.0,11.1],[6.1,14.0],[6.2,9.3],[6.3,12.0],[6.4,10.8],[6.5,8.6],[6.6,13.9],[6.7,11.4],[6.8,9.8],[6.9,12.2],[7.0,10.3],[7.2,11.6],[7.4,8.9],[7.5,18.0],[7.7,13.9],[7.9,15.5],[8.0,11.2],[8.2,13.0],[8.3,10.7],[8.4,14.3],[8.6,12.2],[8.7,16.0],[8.8,11.6],[8.9,13.6],[9.0,15.2],[9.1,12.6],[9.2,14.4],[9.3,16.6],[9.4,13.3],[9.5,11.8],[9.6,15.4],[9.7,14.0],[9.8,16.9],[9.9,12.8],[10.0,15.0],[10.2,13.7],[10.3,16.2],[10.4,14.8],[10.5,12.3],[10.6,15.8],[10.8,14.0],[10.9,16.6],[11.0,13.2],[11.2,15.2],[11.3,17.0],[11.4,14.4],[11.6,16.0],[11.7,12.6],[11.8,15.0],[12.0,13.6],[12.1,16.8],[12.2,14.6],[12.4,15.6],[12.5,12.4],[12.6,14.0],[12.8,16.4],[12.9,13.3],[13.0,15.0],[13.2,17.3],[13.3,14.0],[13.4,19.3],[13.6,16.6],[13.7,13.6],[13.8,18.3],[13.9,15.2],[14.0,17.7],[14.1,14.0],[14.2,19.0],[14.3,16.8],[14.4,15.0],[14.5,18.6],[14.6,17.2],[14.7,14.2],[14.8,19.8],[14.9,16.0],[15.0,18.2],[15.1,15.0],[15.2,19.4],[15.3,17.4],[15.4,14.0],[15.6,18.8],[15.7,16.6],[15.9,19.5],[16.0,18.0],[16.2,17.0],[16.4,19.6],[16.6,18.4],[16.8,17.6],[16.9,20.0],[17.2,19.1],[17.5,19.8],[16.0,14.8],[15.5,14.3],[12.3,12.2],[11.2,12.0],[10.1,11.5],[9.3,10.9],[8.4,10.3],
[-2.4,4.4],[-1.6,3.0],[-1.2,4.2],[-0.8,3.6],[-0.4,3.8],[0.6,5.2],[1.0,6.2],[1.4,7.6],[1.8,7.0],[2.2,8.6],[2.6,8.0],[3.0,8.6],[3.4,10.4],[3.0,10.6],[2.4,9.6],[1.8,9.8],[2.0,7.0],[2.6,6.6],[5.8,9.2],[6.2,10.6],[6.6,9.6],[7.0,11.4],[6.4,11.8],[5.6,10.0],[8.6,13.8],[9.0,14.0],[9.4,15.0],[9.8,14.4],[10.2,15.4],[10.6,14.4],[11.0,15.6],[11.4,15.8],[11.8,14.0],[12.2,15.8],[12.6,15.2],[13.0,16.2],[13.4,15.0],[9.6,13.0],[10.4,13.4],[11.2,13.6],[14.2,17.6],[14.6,18.0],[15.0,17.0],[15.4,18.0],[15.8,17.6],[14.8,18.8],[15.2,16.4],[14.0,16.0],[8.8,12.8],[8.2,12.0],
[-3.2,3.0],[-2.6,3.0],[-2.0,3.8],[-1.4,4.4],[-1.0,3.4],[-0.6,4.2],[-0.2,4.6],[0.4,5.8],[0.8,5.0],[1.2,6.6],[1.6,8.2],[2.0,8.2],[2.4,7.4],[2.8,9.2],[3.2,9.6],[3.6,10.4],[3.4,9.0],[2.8,7.6],[2.2,6.6],[1.6,6.2],[5.4,9.0],[5.8,11.0],[6.2,9.8],[6.6,10.6],[7.0,9.6],[6.0,10.4],[8.8,14.6],[9.2,13.8],[9.6,14.2],[10.0,14.2],[10.4,15.6],[10.8,15.0],[11.2,14.6],[11.6,15.2],[12.0,15.0],[12.4,14.4],[12.8,15.6],[13.2,15.8],[13.6,16.0],[14.0,17.0],[14.4,17.6],[14.8,17.4],[15.2,18.6],[15.6,19.0],[16.0,19.0],[16.4,18.6],[14.2,18.4],[13.8,17.4],[10.0,13.8],[9.0,13.2],[11.6,14.2],[12.2,13.0],[13.0,14.4]];

const ptsG = [[-4.4,8.2],[-3.5,8.2],[-2.2,9.3],[-2.3,8.7],[-0.9,8.8],[-0.8,7.9],[-0.5,8.0],[-3.0,5.9],[-2.8,5.6],[-2.5,6.0],[-2.6,5.8],[-1.5,6.0],[-1.5,5.4],[-0.9,5.6],[-0.8,4.6],[-2.6,2.4],[-2.5,3.3],[-2.3,2.0],[-2.1,1.3],[-1.9,2.8],[-1.7,1.8],[-1.6,3.9],[-1.5,0.8],[-1.4,2.2],[-1.3,4.6],[-1.2,3.0],[-1.1,1.2],[-1.0,4.0],[-0.9,2.4],[-0.8,3.4],[-0.7,1.5],[-0.6,5.0],[-0.5,3.0],[-0.4,2.0],[-0.3,4.2],[-0.2,0.8],[-0.1,3.5],[0.0,2.6],[0.1,5.5],[0.2,4.2],[0.3,3.0],[0.4,6.0],[0.5,4.8],[0.6,2.0],[0.7,5.6],[0.8,7.0],[0.9,4.0],[1.0,6.4],[1.1,5.2],[1.2,7.4],[1.3,3.4],[1.4,6.0],[1.5,8.2],[1.6,5.0],[1.7,7.0],[1.8,6.2],[1.9,4.4],[2.0,7.6],[2.1,5.6],[2.2,6.8],[2.3,4.0],[2.4,8.0],[2.5,6.2],[2.6,7.2],[2.7,9.2],[2.8,5.5],[2.9,7.8],[3.0,6.6],[3.1,8.6],[3.2,10.2],[3.3,7.4],[3.4,9.0],[3.5,5.1],[3.6,8.2],[3.7,9.6],[3.8,7.0],[3.9,9.0],[4.0,6.6],[4.1,10.3],[4.2,8.6],[4.3,7.5],[4.4,9.4],[4.5,10.6],[4.6,6.7],[4.7,8.2],[4.8,9.8],[4.9,7.5],[5.0,10.4],[5.1,9.0],[5.2,6.8],[5.3,10.8],[5.4,8.4],[5.5,9.6],[5.6,7.8],[5.7,10.2],[5.8,6.0],[5.9,9.0],[6.0,11.0],[6.1,8.0],[6.2,10.0],[6.3,9.2],[6.4,11.3],[6.5,7.4],[6.6,10.6],[6.7,8.6],[6.8,9.8],[6.9,11.5],[7.0,9.0],[7.2,10.4],[7.3,7.6],[7.4,11.0],[7.5,8.4],[7.6,9.8],[7.8,11.3],[7.9,7.8],[8.0,10.2],[8.2,11.5],[8.3,8.8],[8.4,10.6],[8.6,11.2],[8.8,11.6],[9.0,10.8],[9.1,9.2],[9.2,11.4],[9.3,6.6],[9.4,8.8],[9.5,11.7],[9.6,10.0],[9.7,9.5],[9.8,11.2],[9.9,8.2],[10.0,11.6],[10.1,9.8],[10.2,11.0],[10.3,10.2],[10.5,11.7],[10.6,9.6],[10.8,11.0],[11.0,11.5],[11.2,10.8],[12.5,10.7],[12.9,10.4],[1.7,9.9],[1.9,10.0],[2.0,9.0],[2.2,8.6],[3.0,11.0],[3.4,11.1],[4.6,10.0],[5.5,11.2],[7.0,11.7],[-2.8,0.0],[-3.2,0.1],[-4.3,0.0],[-3.6,0.5],[-2.4,0.0],[-1.9,0.0],[-1.4,0.0],[-0.9,0.0],[-0.4,0.1],[0.0,0.0],[-1.2,0.4],[-2.0,0.6],[4.0,5.6],[3.2,5.8],[5.0,6.2],[6.0,6.5],[7.0,6.9],
[-1.8,1.0],[-1.6,2.4],[-1.4,1.6],[-1.2,2.0],[-1.0,1.6],[-0.8,2.0],[-0.6,1.0],[-0.6,3.6],[-0.4,4.6],[-0.2,2.4],[0.0,4.0],[0.2,3.4],[0.4,5.0],[0.6,4.4],[-1.6,0.2],[-1.1,0.2],[-0.6,0.2],[0.8,5.8],[1.2,6.0],[1.6,6.4],[2.0,6.8],[2.4,7.0],[2.8,8.0],[3.2,7.0],[3.6,9.4],[4.0,9.2],[4.4,8.4],[4.8,8.8],[5.2,9.6],[5.6,9.2],[6.0,9.6],[6.4,10.0],[6.8,10.4],[7.2,11.0],[7.6,10.6],[8.0,11.2],[8.4,11.6],[8.8,11.8],[9.2,11.6],[9.6,11.9],[10.0,11.2],[10.4,11.9],[10.8,11.6],[9.6,9.0],[9.8,10.6],[10.4,10.6],[5.4,10.0],[4.4,9.0],[6.2,9.0],[7.0,9.8],[7.8,10.0],[8.6,10.0],
[-2.2,1.6],[-2.0,2.2],[-1.8,3.2],[-1.6,1.4],[-1.4,3.0],[-1.2,1.0],[-1.0,2.6],[-0.8,1.2],[-0.6,2.6],[-0.4,3.4],[-0.2,4.0],[0.0,3.2],[0.2,5.0],[0.4,4.0],[0.6,5.4],[0.8,4.8],[1.0,5.6],[1.2,5.0],[1.4,6.8],[1.6,7.2],[1.8,6.8],[2.0,6.0],[2.2,7.6],[2.6,6.6],[2.8,7.2],[3.0,8.2],[3.4,8.0],[3.8,8.6],[4.2,9.6],[4.6,9.0],[5.0,9.4],[5.4,9.0],[5.8,10.4],[6.2,10.6],[6.6,9.4],[7.0,10.6],[7.4,10.2],[7.8,10.8],[8.2,10.4],[8.6,11.6],[9.0,11.4],[9.4,10.6],[9.8,11.6],[10.2,11.6],[10.6,11.2],[-1.4,0.4],[-0.8,0.6],[-2.2,0.2],[-0.2,0.2],[-1.8,0.4]];

const ptsH = [[-4.5,12.7],[-3.6,0.0],[-4.2,1.6],[-3.5,3.2],[-3.5,9.7],[-2.9,9.8],[-2.2,10.3],[-2.0,9.0],[-1.6,9.8],[-2.0,2.0],[-1.9,1.3],[-1.4,1.1],[-2.8,3.8],[-2.6,6.5],[-2.5,3.3],[-2.3,6.0],[-2.1,4.2],[-1.9,5.6],[-1.7,3.7],[-1.5,6.8],[-1.4,4.8],[-1.3,2.8],[-1.2,6.0],[-1.1,3.5],[-1.0,7.6],[-0.9,4.6],[-0.8,2.6],[-0.7,6.8],[-0.6,5.0],[-0.5,8.4],[-0.4,3.6],[-0.3,6.2],[-0.2,9.0],[-0.1,4.9],[0.0,7.4],[0.1,5.8],[0.2,9.4],[0.3,6.8],[0.4,4.2],[0.5,8.2],[0.6,10.8],[0.7,6.2],[0.8,9.2],[0.9,7.6],[1.0,11.4],[1.1,5.4],[1.2,8.6],[1.3,10.2],[1.4,7.0],[1.5,11.2],[1.6,9.0],[1.7,6.3],[1.8,11.8],[1.9,8.2],[2.0,10.4],[2.1,5.8],[2.2,12.4],[2.3,9.0],[2.4,11.0],[2.5,7.4],[2.6,8.6],[2.7,15.9],[2.8,12.0],[2.9,10.0],[3.0,13.5],[3.1,8.2],[3.2,11.8],[3.3,14.0],[3.4,9.4],[3.5,12.8],[3.6,10.8],[3.7,14.4],[3.8,8.6],[3.9,12.0],[4.0,13.6],[4.1,10.2],[4.2,14.5],[4.3,11.6],[4.4,9.8],[4.5,13.0],[4.6,11.0],[4.7,14.2],[4.8,10.4],[4.9,12.6],[5.0,13.8],[5.1,11.4],[5.2,14.6],[5.3,10.0],[5.4,13.0],[5.5,12.0],[5.6,14.0],[5.7,11.2],[5.8,13.2],[5.9,15.0],[6.0,12.4],[6.1,14.0],[6.2,11.0],[6.3,13.6],[6.4,14.6],[6.5,12.8],[6.6,11.6],[6.7,13.8],[6.8,15.0],[6.9,12.2],[7.0,14.2],[7.2,13.0],[7.3,14.8],[7.4,11.8],[7.5,13.8],[7.7,12.6],[7.8,14.6],[8.0,13.4],[8.2,15.0],[8.4,12.6],[8.5,14.2],[8.7,15.2],[8.8,13.4],[9.0,14.6],[9.2,15.0],[9.3,12.4],[9.5,14.2],[9.7,15.3],[9.9,13.6],[10.0,14.6],[10.2,16.0],[10.4,14.0],[10.5,15.2],[10.7,13.2],[10.8,15.6],[11.0,15.8],[11.2,15.6],[12.5,15.6],[12.9,15.3],[-0.7,0.6],[-0.6,0.0],[-0.5,0.3],[-0.6,1.0],[0.2,3.6],[0.6,4.0],[1.5,4.6],[2.2,5.0],[-3.0,3.5],[-2.7,4.0],[-1.0,2.8],[0.3,10.6],[0.0,10.9],[1.0,12.0],[1.3,13.8],[1.8,13.0],[2.3,14.0],
[-2.4,3.8],[-2.0,3.4],[-1.6,3.0],[-1.2,4.0],[-0.8,3.6],[-0.6,6.0],[-0.4,7.0],[-0.2,7.8],[0.0,8.4],[0.2,7.6],[0.4,8.0],[-0.6,7.4],[-0.8,5.6],[-1.0,5.2],[-1.4,5.6],[-1.8,6.6],[-2.2,6.4],[0.6,9.6],[1.0,9.8],[1.6,11.4],[2.0,11.6],[2.4,12.2],[2.8,11.4],[3.2,12.4],[3.6,13.0],[4.0,12.2],[4.4,13.2],[4.8,13.6],[5.2,12.6],[5.6,13.4],[6.0,13.2],[6.4,13.8],[6.8,13.4],[7.2,14.2],[7.6,13.6],[8.0,14.2],[8.4,13.8],[8.8,14.6],[9.2,14.2],[9.6,14.8],[10.0,13.8],[10.4,15.0],[10.8,14.6],[1.8,8.4],[2.2,8.8],[2.6,9.4],[3.0,9.0],[3.4,10.4],[3.8,10.0],[1.4,6.4],[1.0,7.0],[0.6,5.6],
[-2.6,4.2],[-2.2,3.2],[-1.8,4.4],[-1.4,3.4],[-1.2,5.0],[-1.0,4.2],[-0.8,6.4],[-0.6,4.4],[-0.4,5.6],[-0.2,6.6],[0.0,6.0],[0.2,6.6],[0.4,7.2],[0.6,8.6],[0.8,8.0],[-0.4,8.0],[-0.2,8.6],[0.0,9.4],[0.4,9.2],[0.8,10.4],[1.2,10.6],[1.6,10.4],[2.0,11.0],[2.4,10.6],[2.8,12.8],[3.2,13.0],[3.6,12.2],[4.0,13.0],[4.4,12.6],[4.8,13.0],[5.2,13.4],[5.6,12.8],[6.0,13.8],[6.4,13.2],[6.8,14.2],[7.2,13.6],[7.6,14.4],[8.0,13.8],[8.4,14.6],[8.8,14.0],[9.2,14.8],[9.6,14.4],[10.0,15.2],[10.4,14.4],[1.2,7.8],[1.6,8.0],[2.0,8.6],[2.4,8.2],[2.8,9.6],[3.2,10.0],[3.6,10.6],[4.0,11.0],[4.4,11.4],[4.8,11.8],[5.2,11.8],[2.0,6.8],[1.6,6.0],[3.0,7.4]];

const panelIds   = ["a", "b", "c", "d", "e", "f", "g", "h"];
const panelPts   = [ptsA, ptsB, ptsC, ptsD, ptsE, ptsF, ptsG, ptsH];
const axisMax    = [30, 30, 30, 30, 30, 30, 20, 20];
const ticks30    = [-10, 0, 10, 20, 30];
const ticks20    = [-10, 0, 10, 20];
const yTitles    = ["LST-CLIMo (2002-2010)", "LST-FLake (2002-2010)"];
const xTitle     = "LST-MODIS (2002-2010)";
const statIa     = ["0.856", "0.719", "0.712", "0.600", "0.922", "0.809", "0.739", "0.569"];
const statMbe    = ["=  3.10", "=  6.02", "=  5.70", "=  7.03", "=  0.96", "=  4.16", "=  3.49", "= 6.61"];
const statRmse   = ["4.20", "6.47", "6.86", "8.43", "2.48", "4.53", "4.06", "6.95"];
const statN      = ["504", "504", "1154", "1154", "500", "500", "583", "583"];

// ---- layout (pixel frame of each panel) ----
const frames = [
  {x0: 104, x1: 757,  top: 22,   bot: 437,  lab: 20, one: [562, 18], tdx: 27},
  {x0: 958, x1: 1610, top: 28,   bot: 440,  lab: 24, one: [562, 8],  tdx: 4},
  {x0: 102, x1: 755,  top: 574,  bot: 982,  lab: 23, one: [600, 0],  tdx: 0},
  {x0: 962, x1: 1615, top: 573,  bot: 982,  lab: 22, one: [601, 1],  tdx: 0},
  {x0: 102, x1: 756,  top: 1109, bot: 1521, lab: 23, one: [602, 2],  tdx: 0},
  {x0: 962, x1: 1616, top: 1109, bot: 1521, lab: 23, one: [601, 0],  tdx: 0},
  {x0: 102, x1: 755,  top: 1655, bot: 2066, lab: 19, one: [604, 8],  tdx: 0},
  {x0: 961, x1: 1615, top: 1656, bot: 2067, lab: 18, one: [597, 6],  tdx: 0}
];

const W = 1653, H = 2162;
const axisColor = "#404040";

const svg = d3.select("body").append("svg")
    .attr("width", W)
    .attr("height", H)
    .attr("viewBox", `0 0 ${W} ${H}`);

svg.append("rect").attr("width", W).attr("height", H).attr("fill", "#fff");

panelIds.forEach((id, i) => {
    const f = frames[i];
    const max = axisMax[i];
    const tv = max === 30 ? ticks30 : ticks20;
    const x = d3.scaleLinear().domain([-10, max]).range([f.x0, f.x1]);
    const y = d3.scaleLinear().domain([-10, max]).range([f.bot, f.top]);
    const g = svg.append("g").attr("class", "panel-" + id);
    const w = f.x1 - f.x0;

    // 1:1 line, runs a little past the axis range
    const lineEnd = max + (max + 10) * 0.063;
    g.append("line")
        .attr("x1", x(-10)).attr("y1", y(-10))
        .attr("x2", x(lineEnd)).attr("y2", y(lineEnd))
        .attr("stroke", "#1a1a1a")
        .attr("stroke-width", 2)
        .attr("stroke-dasharray", "8,5");

    // points
    g.append("g")
        .selectAll("circle")
        .data(panelPts[i])
        .enter().append("circle")
        .attr("cx", d => x(d[0]))
        .attr("cy", d => y(d[1]))
        .attr("r", 7.5)
        .attr("fill", "none")
        .attr("stroke", "#9a9a9a")
        .attr("stroke-width", 1.6);

    // axes
    const fmt = d => String(d);
    const xAxis = g.append("g")
        .attr("transform", `translate(0,${f.bot})`)
        .call(d3.axisBottom(x).tickValues(tv).tickSize(9).tickSizeOuter(0).tickPadding(12).tickFormat(fmt));
    const yAxis = g.append("g")
        .attr("transform", `translate(${f.x0},0)`)
        .call(d3.axisLeft(y).tickValues(tv).tickSize(9).tickSizeOuter(0).tickPadding(6).tickFormat(fmt));
    [xAxis, yAxis].forEach(a => {
        a.select(".domain").attr("stroke", axisColor).attr("stroke-width", 2);
        a.selectAll(".tick line").attr("stroke", axisColor).attr("stroke-width", 1.8);
        a.selectAll(".tick text")
            .attr("fill", "#222")
            .style("font-family", '"Liberation Sans", Arial, sans-serif')
            .style("font-size", "24px");
    });
    yAxis.selectAll(".tick text").attr("dy", "0.36em");
    xAxis.selectAll(".tick text").attr("dy", "0.71em");

    // axis titles
    g.append("text")
        .attr("x", f.x0 + 0.46 * w + f.tdx)
        .attr("y", f.bot + 90)
        .attr("text-anchor", "middle")
        .attr("fill", "#222")
        .style("font-size", "25px")
        .text(xTitle);
    g.append("text")
        .attr("transform", `translate(${f.x0 - 79},${(f.top + f.bot) / 2}) rotate(-90)`)
        .attr("text-anchor", "middle")
        .attr("fill", "#222")
        .style("font-size", "25px")
        .text(yTitles[i % 2]);

    // panel letter and 1:1
    g.append("text")
        .attr("x", f.x0 + 56)
        .attr("y", f.top + f.lab + 12)
        .attr("text-anchor", "middle")
        .attr("fill", "#111")
        .style("font-size", "42px")
        .text(`(${id})`);
    g.append("text")
        .attr("x", f.x0 + f.one[0])
        .attr("y", f.top + f.one[1] + 7.5)
        .attr("text-anchor", "middle")
        .attr("fill", "#222")
        .style("font-size", "21px")
        .text("1:1");

    // statistics block
    const sx = f.x0 + 0.70 * w;
    const st = g.append("g")
        .style("font-size", "24px")
        .style("font-weight", "bold")
        .attr("fill", "#1a1a1a");
    const ia = st.append("text").attr("x", sx).attr("y", f.bot - 96);
    ia.append("tspan").text("I");
    ia.append("tspan").attr("dy", 7).style("font-size", "17px").text("a");
    ia.append("tspan").attr("dy", -7).text("= " + statIa[i]);
    st.append("text").attr("x", sx).attr("y", f.bot - 67)
        .style("white-space", "pre").text("MBE " + statMbe[i]);
    st.append("text").attr("x", sx).attr("y", f.bot - 38).text("RMSE = " + statRmse[i]);
    st.append("text").attr("x", sx).attr("y", f.bot - 10).text("n = " + statN[i]);
});
</script>
</body>
</html>
